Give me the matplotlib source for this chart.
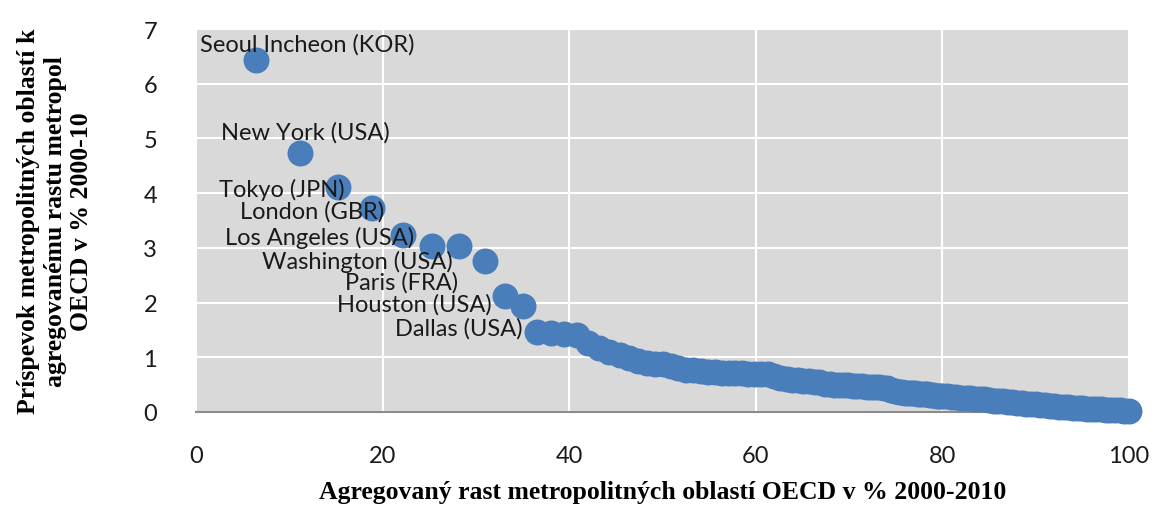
import matplotlib
matplotlib.use('Agg')
from matplotlib import pyplot as plt

# named metro areas (first points of the curve)
cities = ['Seoul Incheon (KOR)', 'New York (USA)', 'Tokyo (JPN)', 'London (GBR)',
          'Los Angeles (USA)', 'Washington (USA)', 'Paris (FRA)', 'Houston (USA)',
          'Dallas (USA)']
city_idx = [0, 1, 2, 3, 4, 5, 6, 8, 10]

# cumulative growth share (x) and contribution (y)
x_vals = [6.4, 11.1, 15.2, 18.9, 22.2, 25.3, 28.2, 31.0, 33.1, 35.0, 36.5,
          38.0, 39.4, 40.8, 42.0, 43.2, 44.3, 45.4, 46.4, 47.4, 48.3, 49.2, 50.1,
          50.9, 51.7, 52.5, 53.3, 54.1, 54.9, 55.6, 56.4, 57.1, 57.8, 58.5, 59.2,
          59.9, 60.6, 61.3, 62.0, 62.6, 63.3, 63.9, 64.5, 65.1, 65.7, 66.3, 66.8,
          67.4, 67.9, 68.4, 68.9, 69.4, 69.9, 70.4, 70.9, 71.4, 71.9, 72.3, 72.8,
          73.2, 73.7, 74.1, 74.5, 74.9, 75.3, 75.7, 76.0, 76.4, 76.7, 77.1, 77.4,
          77.7, 78.1, 78.4, 78.7, 79.0, 79.4, 79.7, 80.0, 80.5, 81.0, 81.5, 82.0,
          82.5, 83.0, 83.5, 84.0, 84.5, 85.0, 85.5, 86.0, 86.5, 87.0, 87.5, 88.0,
          88.5, 89.0, 89.5, 90.0, 90.5, 91.0, 91.5, 92.0, 92.5, 93.0, 93.5, 94.0,
          94.5, 95.0, 95.5, 96.0, 96.5, 97.0, 97.5, 98.0, 98.5, 99.0, 99.5, 100.0]
y_vals = [6.43, 4.73, 4.11, 3.73, 3.24, 3.03, 3.03, 2.76, 2.12, 1.94, 1.46,
          1.44, 1.42, 1.41, 1.27, 1.17, 1.10, 1.04, 0.99, 0.93, 0.89, 0.88, 0.87,
          0.84, 0.80, 0.77, 0.76, 0.75, 0.74, 0.73, 0.72, 0.72, 0.71, 0.71, 0.70,
          0.70, 0.70, 0.69, 0.65, 0.63, 0.61, 0.59, 0.58, 0.57, 0.56, 0.55, 0.54,
          0.52, 0.51, 0.50, 0.50, 0.49, 0.49, 0.48, 0.48, 0.47, 0.46, 0.46, 0.45,
          0.45, 0.44, 0.43, 0.40, 0.38, 0.37, 0.36, 0.35, 0.35, 0.34, 0.34, 0.33,
          0.33, 0.32, 0.32, 0.31, 0.31, 0.30, 0.30, 0.29, 0.29, 0.28, 0.27, 0.26,
          0.26, 0.25, 0.24, 0.24, 0.23, 0.22, 0.21, 0.21, 0.20, 0.19, 0.18, 0.17,
          0.16, 0.15, 0.14, 0.14, 0.13, 0.12, 0.11, 0.11, 0.10, 0.09, 0.09, 0.08,
          0.08, 0.07, 0.06, 0.06, 0.05, 0.05, 0.04, 0.04, 0.03, 0.03, 0.02, 0.02]

# label offsets in pixels and alignment
offsets = [(52, 16, 'center'), (6, 21, 'center'), (7, -2, 'right'), (12, -3, 'right'),
           (11, -2, 'right'), (21, -15, 'right'), (-1, -36, 'right'), (-13, -8, 'right'),
           (-14, 4, 'right')]

label_font = 'Lato'

fig = plt.figure(figsize=(11.56, 5.06), dpi=100)
ax = fig.add_axes([196 / 1156, 1 - 413 / 506, (1129 - 196) / 1156, (413 - 30) / 506])
ax.set_facecolor('#d9d9d9')

ax.plot(x_vals, y_vals, linestyle='none', marker='o', markersize=18.7,
        color='#4a7ebb', markeredgewidth=0, clip_on=False, zorder=3)

for name, i, (dx, dy, ha) in zip(cities, city_idx, offsets):
    ax.annotate(name, (x_vals[i], y_vals[i]), xytext=(dx, dy), textcoords='offset pixels',
                ha=ha, va='center', fontsize=17, family=label_font, color='#1a1a1a',
                zorder=4, annotation_clip=False)

ax.set_xlim(0, 100)
ax.set_ylim(0, 7)
ax.set_xticks([0, 20, 40, 60, 80, 100])
ax.set_yticks(range(8))
ax.grid(True, color='white', linewidth=1.5)
ax.set_axisbelow(True)
for s in ['top', 'right', 'left']:
    ax.spines[s].set_visible(False)
ax.spines['bottom'].set_color('#8c8c8c')
ax.spines['bottom'].set_linewidth(1.5)
ax.tick_params(length=0, labelsize=17, colors='#1a1a1a')
ax.tick_params(axis='x', pad=24)
ax.tick_params(axis='y', pad=28)
for lab in ax.get_xticklabels() + ax.get_yticklabels():
    lab.set_family(label_font)

ax.set_xlabel('Agregovaný rast metropolitných oblastí OECD v % 2000-2010',
              family='Liberation Serif', fontweight='bold', fontsize=18.5, labelpad=10)
ax.set_ylabel('Príspevok metropolitných oblastí k\nagregovanému rastu metropol\nOECD v % 2000-10',
              family='Liberation Serif', fontweight='bold', fontsize=18.5, labelpad=36,
              linespacing=1.2)

fig.savefig('out.png', dpi=100)
